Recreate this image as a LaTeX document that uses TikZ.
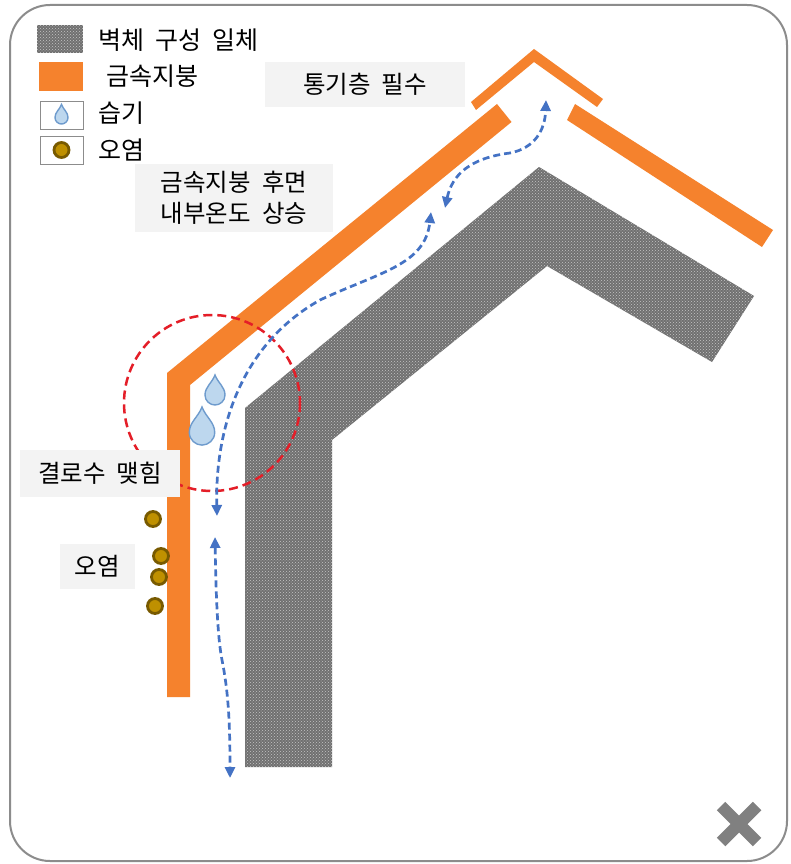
\documentclass[tikz,border=0pt]{standalone}
\usepackage{fontspec}
\setmainfont[WordSpace=2]{Noto Sans CJK KR}
\usetikzlibrary{arrows.meta,patterns}

\definecolor{roof}{RGB}{245,130,45}
\definecolor{wallgray}{RGB}{112,112,112}
\definecolor{tagbg}{RGB}{243,243,243}
\definecolor{flowblue}{RGB}{68,114,196}
\definecolor{ringred}{RGB}{228,30,40}
\definecolor{dropfill}{RGB}{189,215,238}
\definecolor{dropedge}{RGB}{110,155,205}
\definecolor{dirtin}{RGB}{191,144,0}
\definecolor{dirtout}{RGB}{120,90,0}
\definecolor{framegray}{RGB}{140,140,140}
\definecolor{closegray}{RGB}{128,128,128}

\tikzset{
  waterdrop/.pic={
    \draw[fill=dropfill, draw=dropedge, line width=1.4pt]
      (0,0) .. controls (3,8) and (10,12) .. (10,20)
      .. controls (10,26) and (5,30) .. (0,30)
      .. controls (-5,30) and (-10,26) .. (-10,20)
      .. controls (-10,12) and (-3,8) .. (0,0) -- cycle;
  },
  dirtspot/.style={circle, fill=dirtin, draw=dirtout, line width=2.8pt,
    minimum size=15pt, inner sep=0pt},
  wallfill/.style={fill=wallgray,
    postaction={pattern=crosshatch dots, pattern color=white!60!wallgray}},
  tag/.style={fill=tagbg, inner sep=0pt, minimum height=45pt,
    font=\fontsize{24.5}{31}\selectfont, align=center},
  legtext/.style={anchor=west, inner sep=0pt, font=\fontsize{25}{28}\selectfont},
  legbox/.style={draw=framegray, line width=0.8pt, fill=white},
  flow/.style={draw=flowblue, line width=2.7pt, dash pattern=on 7pt off 4pt,
    {Triangle[length=11pt,width=10pt]}-{Triangle[length=11pt,width=10pt]}},
}

\begin{document}
\begin{tikzpicture}[x=1pt,y=-1pt]
\useasboundingbox (0,0) rectangle (790,864);
\fill[white] (0,0) rectangle (790,864);

% outer frame
\draw[framegray, line width=2pt, rounded corners=40pt] (10,5) rectangle (787,861);

% wall assembly
\path[wallfill] (245,767) -- (245,408) -- (539,167) -- (754,296) -- (712,362)
  -- (547,266) -- (332,440) -- (332,767) -- cycle;

% metal roof: left slope with wall, right slope, ridge cap
\fill[roof] (167,697) -- (167,373) -- (497,104) -- (511.5,122) -- (190,385)
  -- (190,697) -- cycle;
\fill[roof] (575,104) -- (773,230) -- (762,247) -- (567,120) -- cycle;
\fill[roof] (471,102) -- (534,49) -- (603,99) -- (597,107) -- (534,62)
  -- (476,110) -- cycle;

% condensation zone
\draw[ringred, line width=2.5pt, dash pattern=on 9pt off 5pt] (212,403) circle (88);

% labels
\node[tag, minimum width=200pt] (vent) at (365,84.5) {통기층 필수};
\node[tag, minimum width=198pt, minimum height=68pt] (heat) at (234,198)
  {금속지붕 후면\\내부온도 상승};
\node[tag, minimum width=160pt, minimum height=47pt] (cond) at (100,473.5) {결로수 맺힘};
\node[tag, minimum width=75pt] (stain) at (97.5,566.5) {오염};

% water droplets
\pic (dropA) at (215,375) {waterdrop};
\pic[scale=1.27] (dropB) at (202,407) {waterdrop};

% stains on the roof face
\node[dirtspot] (s1) at (153,519) {};
\node[dirtspot] (s2) at (161,556) {};
\node[dirtspot] (s3) at (159,577) {};
\node[dirtspot] (s4) at (155,606) {};

% air flow in the cavity
\coordinate (a1) at (217,516);
\coordinate (a2) at (431,212);
\coordinate (b1) at (445,208);
\coordinate (b2) at (546,100);
\coordinate (c1) at (215,537);
\coordinate (c2) at (230,778);
\draw[flow] (a1) .. controls (215,430) and (240,345) .. (320,300)
  .. controls (380,272) and (425,265) .. (a2);
\draw[flow] (b1) .. controls (452,175) and (470,158) .. (510,153)
  .. controls (535,148) and (545,130) .. (b2);
\draw[flow] (c1) .. controls (216,600) and (218,640) .. (222,660)
  .. controls (228,690) and (230,720) .. (c2);

% legend
\path[wallfill] (37,25) rectangle (83,53);
\node[legtext] (lg1) at (98,40) {벽체 구성 일체};
\fill[roof] (39,62) rectangle (83,91);
\node[legtext] (lg2) at (106,76) {금속지붕};
\draw[legbox] (40,101) rectangle (83,129);
\pic[scale=0.65] (legdrop) at (61.5,104.5) {waterdrop};
\node[legtext] (lg3) at (98,113) {습기};
\draw[legbox] (40,136) rectangle (83,164);
\node[dirtspot] (legdirt) at (61.5,150) {};
\node[legtext] (lg4) at (98,150) {오염};

% close mark
\draw[closegray, line width=12pt] (721,806) -- (757,842) (757,806) -- (721,842);
\end{tikzpicture}
\end{document}
